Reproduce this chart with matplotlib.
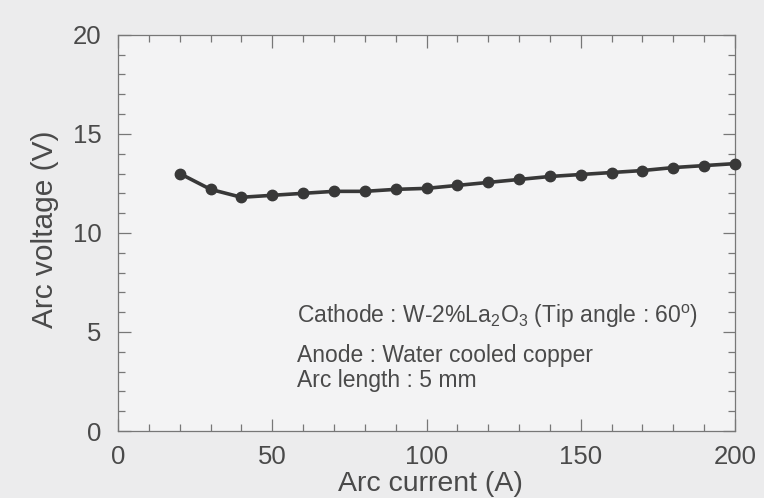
import numpy as np
import matplotlib.pyplot as plt
from matplotlib.ticker import MultipleLocator

plt.rcParams['font.family'] = ['Liberation Sans', 'DejaVu Sans']
plt.rcParams['mathtext.fontset'] = 'custom'
plt.rcParams['mathtext.rm'] = 'Liberation Sans'
plt.rcParams['mathtext.it'] = 'Liberation Sans:italic'

current = [20, 30, 40, 50, 60, 70, 80, 90, 100, 110,
           120, 130, 140, 150, 160, 170, 180, 190, 200]
voltage = [13.0, 12.2, 11.8, 11.9, 12.0, 12.1, 12.1, 12.2, 12.25, 12.4,
           12.55, 12.7, 12.85, 12.95, 13.05, 13.15, 13.3, 13.4, 13.5]

notes = [r'Cathode : W-2%La$_2$O$_3$ (Tip angle : 60$^{\rm o}$)',
         'Anode : Water cooled copper',
         'Arc length : 5 mm']
note_y = [5.47, 3.49, 2.23]

txt = '#4a4a4a'
bg = '#ececed'

fig = plt.figure(figsize=(7.64, 4.98), dpi=100, facecolor=bg)
ax = fig.add_axes([0.1545, 0.1345, 0.8075, 0.7955])
ax.set_facecolor('#f3f3f4')

ax.plot(current, voltage, color='#383838', lw=2.6, marker='o', ms=7.5,
        clip_on=False, zorder=3)

ax.set_xlim(0, 200)
ax.set_ylim(0, 20)
ax.xaxis.set_major_locator(MultipleLocator(50))
ax.xaxis.set_minor_locator(MultipleLocator(10))
ax.yaxis.set_major_locator(MultipleLocator(5))
ax.yaxis.set_minor_locator(MultipleLocator(1))
ax.tick_params(which='both', direction='in', top=True, right=True,
               color='#777777', width=0.9, labelcolor=txt, labelsize=18.5)
ax.tick_params(which='major', length=9)
ax.tick_params(which='minor', length=5)
ax.tick_params(axis='x', pad=10)
ax.tick_params(axis='y', pad=12)
for s in ax.spines.values():
    s.set_color('#777777')
    s.set_linewidth(0.9)

ax.set_xlabel('Arc current (A)', fontsize=20.5, color=txt)
ax.xaxis.label.set_va('baseline')
ax.xaxis.set_label_coords(0.506, -0.151)
ax.set_ylabel('Arc voltage (V)', fontsize=21.5, color=txt)
ax.yaxis.label.set_va('center')
ax.yaxis.set_label_coords(-0.118, 0.509)

for note, y in zip(notes, note_y):
    ax.text(58, y, note, fontsize=16.5, color=txt, va='baseline')

fig.savefig('out.png', dpi=100, facecolor=bg)
